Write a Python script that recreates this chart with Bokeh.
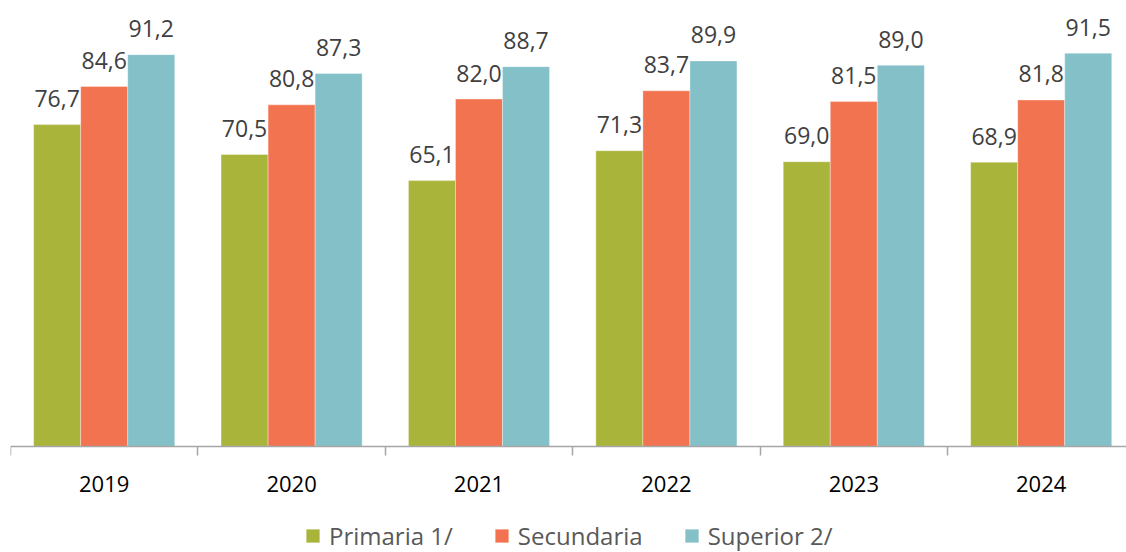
from bokeh.plotting import figure
from bokeh.models import (ColumnDataSource, Range1d, FixedTicker, Legend, LegendItem)
from bokeh.transform import dodge
from bokeh.core.properties import value
from bokeh.embed import file_html
from bokeh.resources import INLINE

years = ["2019", "2020", "2021", "2022", "2023", "2024"]
primaria = [76.7, 70.5, 65.1, 71.3, 69.0, 68.9]
secundaria = [84.6, 80.8, 82.0, 83.7, 81.5, 81.8]
superior = [91.2, 87.3, 88.7, 89.9, 89.0, 91.5]
series_names = ["Primaria 1/", "Secundaria", "Superior 2/"]
colors = ["#A9B53A", "#F27350", "#84C0C7"]

FONT = "Open Sans"

def fmt(v):
    return f"{v:.1f}".replace(".", ",")

idx = list(range(len(years)))
src = ColumnDataSource(dict(
    idx=idx,
    primaria=primaria, secundaria=secundaria, superior=superior,
    primaria_t=[fmt(v) for v in primaria],
    secundaria_t=[fmt(v) for v in secundaria],
    superior_t=[fmt(v) for v in superior],
))

W, H = 1126, 552
BASE_PX = 446          # pixel row of the value-axis baseline
PX_PER_UNIT = 4.826
BASE = 10
p = figure(width=W, height=H, output_backend="svg", toolbar_location=None, tools="",
           x_range=Range1d(-0.5, -0.5 + 1116 / 187.4),
           y_range=Range1d(BASE - (H - BASE_PX) / PX_PER_UNIT, BASE + BASE_PX / PX_PER_UNIT),
           min_border_left=10, min_border_right=0, min_border_top=0,
           min_border_bottom=0)
p.outline_line_color = None
p.xgrid.visible = False
p.ygrid.visible = False
p.yaxis.visible = False

bw = 0.251
offsets = [-bw, 0.0, bw]
fields = ["primaria", "secundaria", "superior"]
renderers = []
for f, off, c in zip(fields, offsets, colors):
    r = p.vbar(x=dodge("idx", off, range=p.x_range), top=f, bottom=BASE, width=bw,
               source=src, fill_color=c, line_color="white", line_width=0.6, line_alpha=0.6)
    renderers.append(r)
    p.text(x=dodge("idx", off, range=p.x_range), y=f, text=f + "_t", source=src,
           text_align="center", text_baseline="alphabetic", y_offset=-26,
           text_font=value(FONT), text_font_size="23px", text_color="#404040")

ax = p.xaxis[0]
ax.fixed_location = BASE
ax.ticker = FixedTicker(ticks=idx, minor_ticks=[i - 0.5 for i in idx] + [len(idx) - 0.5])
ax.major_label_overrides = {i: y for i, y in zip(idx, years)}
ax.major_tick_out = 0
ax.major_tick_in = 0
ax.minor_tick_out = 9
ax.minor_tick_in = 0
ax.minor_tick_line_color = "#A6A6A6"
ax.minor_tick_line_width = 1.5
ax.axis_line_color = "#A6A6A6"
ax.axis_line_width = 1.5
ax.major_label_text_font = FONT
ax.major_label_text_font_size = "22px"
ax.major_label_text_color = "#000000"
ax.major_label_standoff = 20

legend = Legend(items=[LegendItem(label=n, renderers=[r]) for n, r in zip(series_names, renderers)],
                orientation="horizontal", location=(294, 0),
                glyph_width=17, glyph_height=17, label_standoff=8, spacing=40,
                padding=0, margin=0, border_line_alpha=0, background_fill_alpha=0,
                label_text_font=FONT, label_text_font_size="24px", label_text_color="#595959")
p.add_layout(legend, "center")

open("out.html", "w").write(file_html(p, INLINE))
